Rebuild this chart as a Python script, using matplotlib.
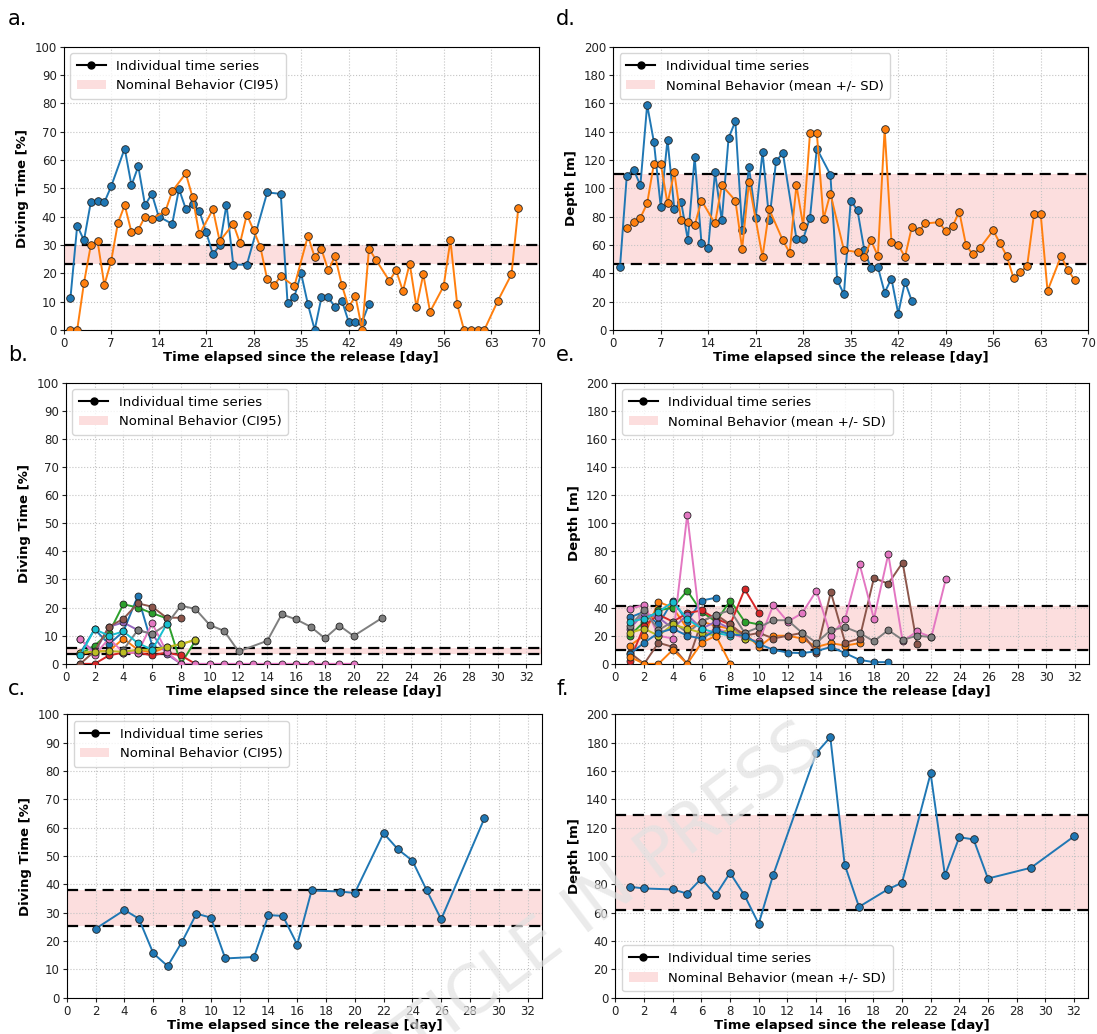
import numpy as np
import matplotlib
matplotlib.use("Agg")
import matplotlib.pyplot as plt
from matplotlib.lines import Line2D
from matplotlib.patches import Patch

# --- data: panel a (diving time, long tracks) ---
a_blue_day = [1, 2, 3, 4, 5, 6, 7, 9, 10, 11, 12, 13, 14, 16, 17, 18, 19, 20, 21, 22,
              23, 24, 25, 27, 30, 32, 33, 34, 35, 36, 37, 38, 39, 40, 41, 42, 43, 44, 45]
a_blue_val = [11.1, 36.8, 31.6, 45, 45.6, 45, 50.6, 64, 51, 57.7, 44, 48, 40, 37.4, 49.7,
              42.7, 44.4, 42, 34.5, 26.7, 29.8, 44.2, 23, 23, 48.5, 48, 9.4, 11.7, 19.9,
              9, 0, 11.5, 11.5, 8, 10.3, 2.9, 2.9, 2.9, 9.1]
a_orange_day = [1, 2, 3, 4, 5, 6, 7, 8, 9, 10, 11, 12, 13, 15, 16, 18, 19, 20, 22, 23,
                25, 26, 27, 28, 29, 30, 31, 32, 34, 36, 37, 38, 39, 40, 41, 42, 43, 44,
                45, 46, 48, 49, 50, 51, 52, 53, 54, 56, 57, 58, 59, 60, 61, 62, 64, 66, 67]
a_orange_val = [0, 0, 16.6, 29.8, 31.3, 15.8, 24.2, 37.7, 44, 34.5, 35.3, 40, 39.2, 41.9,
                48.9, 55.2, 46.8, 33.7, 42.5, 31.3, 37.4, 30.6, 40.7, 35.1, 29.2, 17.8,
                15.8, 18.9, 15.4, 33.1, 25.7, 28.4, 21, 26, 15.8, 8, 11.9, 0, 28.7, 24.8,
                17.3, 21, 13.7, 23.4, 8, 19.6, 6.4, 15.4, 31.6, 9, 0, 0, 0, 0, 10.3, 19.6, 42.9]
a_band = (23.2, 29.8)

# --- panel d (depth, long tracks) ---
d_blue_day = [1, 2, 3, 4, 5, 6, 7, 8, 9, 10, 11, 12, 13, 14, 15, 16, 17, 18, 19, 20, 21,
              22, 23, 24, 25, 27, 28, 29, 30, 32, 33, 34, 35, 36, 37, 38, 39, 40, 41, 42, 43, 44]
d_blue_val = [44.4, 108.9, 113.1, 102.1, 158.9, 132.4, 86.9, 134.3, 85.4, 90.4, 63.4, 122,
              61.5, 58, 111.3, 77.2, 135.4, 147.2, 70.4, 115, 79.1, 125.6, 77.5, 119, 124.9,
              64.3, 64.3, 79.1, 128, 109.6, 35.2, 25.1, 91.3, 84.3, 56.3, 43.4, 44.4, 26.3,
              36.2, 11.5, 34, 20.4]
d_orange_day = [2, 3, 4, 5, 6, 7, 8, 9, 10, 11, 12, 13, 15, 16, 18, 19, 20, 22, 23, 25, 26,
                27, 28, 29, 30, 31, 32, 34, 36, 37, 38, 39, 40, 41, 42, 43, 44, 45, 46, 48,
                49, 50, 51, 52, 53, 54, 56, 57, 58, 59, 60, 61, 62, 63, 64, 66, 67, 68]
d_orange_val = [71.6, 76, 79.1, 89.2, 117.4, 117.4, 89.2, 111.3, 77.5, 76.3, 73.7, 91.3,
                75.1, 102.1, 91.3, 57.3, 104.2, 51.4, 85, 63.1, 54.5, 102.1, 73.2, 139, 139,
                78.4, 96.2, 56.3, 54.9, 51.4, 63.1, 52.1, 141.8, 62.2, 59.9, 51.4, 72.5,
                69.7, 75.1, 76, 69.7, 73.2, 83.3, 59.6, 53.3, 57.5, 70.2, 61, 52.1, 36.4,
                40.8, 45.1, 81.5, 81.5, 27.5, 52.1, 42.3, 35.2]
d_band = (46.5, 109.8)

# --- panel b (diving time, short tracks) ---
b_s1_day = [1, 2, 3, 4, 5, 6]
b_s1_val = [3.8, 12.3, 7, 11.5, 24.1, 6.5]
b_s2_day = [1, 2, 3, 4, 5, 6, 7, 8, 9]
b_s2_val = [3.5, 4.5, 4.5, 9, 5, 4, 5.9, 7, 8.5]
b_s3_day = [1, 2, 3, 4, 5, 6, 7, 8, 9]
b_s3_val = [3.5, 6.5, 11, 21.2, 20, 18, 16.2, 0, 8.2]
b_s4_day = [1, 2, 3, 4, 5, 6, 7, 8, 9]
b_s4_val = [0, 0, 3, 4, 4, 3, 4, 3, 0]
b_s5_day = [1, 2, 3, 4, 5, 6, 7, 8]
b_s5_val = [8.8, 4, 13.2, 14.7, 12, 10.6, 3.5, 0]
b_s6_day = [1, 2, 3, 4, 5, 6, 7, 8]
b_s6_val = [0, 4.5, 13.2, 16, 21.5, 20.3, 16.4, 16.4]
b_s7_day = list(range(1, 21))
b_s7_val = [9, 3.1, 9, 4, 4, 14.4, 4.3, 0, 0, 0, 0, 0, 0, 0, 0, 0, 0, 0, 0, 0]
b_s8_day = [4, 5, 6, 7, 8, 9, 10, 11, 12, 14, 15, 16, 17, 18, 19, 20, 22]
b_s8_val = [5, 12, 10.6, 14, 20.7, 19.5, 13.8, 11.7, 4.4, 8.2, 17.6, 15.8, 13.2, 9.1,
            13.6, 9.9, 16.4]
b_s9_day = [1, 2, 3, 4, 5, 6, 7, 8, 9]
b_s9_val = [4, 4.3, 4.5, 4.3, 5, 5, 6, 7, 8.6]
b_s10_day = [1, 2, 3, 4, 5, 6, 7]
b_s10_val = [3, 12.3, 10, 11.5, 7.4, 5, 14]
b_band = (3.5, 5.5)

# --- panel e (depth, short tracks) ---
e_s1_day = [1, 2, 3, 4, 5, 6, 7]
e_s1_val = [33, 37, 28, 45, 30, 45, 47]
e_s2_day = list(range(1, 18))
e_s2_val = [13, 20, 44, 40, 25, 30, 27, 25, 22, 12, 20, 20, 18, 12, 14.7, 13, 14.7]
e_s3_day = list(range(1, 11))
e_s3_val = [20, 30, 38, 40, 52, 37, 30, 45, 30, 28]
e_s4_day = list(range(1, 11))
e_s4_val = [2, 27, 35, 30, 36, 38, 32, 28, 53, 36]
e_s5_day = list(range(1, 10))
e_s5_val = [25, 36, 33, 25, 35, 25, 30, 25, 20]
e_s6_day = list(range(1, 22))
e_s6_val = [8, 0, 15, 12, 0, 30, 35, 28, 20, 22, 18, 20, 22, 8, 51, 15, 18, 61, 57, 72, 14]
e_s7_day = list(range(1, 24))
e_s7_val = [39, 42, 20, 18, 106, 20, 25, 22, 18, 16, 42, 30, 36, 52, 20, 32, 71, 32, 78,
            16, 23, 19, 60]
e_s8_day = list(range(1, 23))
e_s8_val = [27, 38, 24, 30, 22, 30, 35, 38, 22, 26, 31, 31, 22, 15, 24, 26, 22, 16, 24,
            17, 20, 19]
e_s9_day = list(range(1, 11))
e_s9_val = [22, 25, 20, 28, 25, 22, 20, 25, 18, 15]
e_s10_day = list(range(1, 9))
e_s10_val = [30, 32, 37, 44, 32, 25, 22, 20]
e_s11_day = list(range(1, 20))
e_s11_val = [7, 15, 22, 25, 20, 18, 24, 21, 20, 14, 10, 8, 7.6, 9, 12, 7.6, 2.8, 1.2, 1.2]
e_s12_day = list(range(1, 9))
e_s12_val = [5, 0, 0, 10, 0, 15, 20, 0]
e_band = (9.9, 41.1)

# --- panel c / f (single track) ---
c_day = [2, 4, 5, 6, 7, 8, 9, 10, 11, 13, 14, 15, 16, 17, 19, 20, 22, 23, 24, 25, 26, 29]
c_val = [24.4, 31, 27.9, 15.7, 11.2, 19.8, 29.7, 28.3, 13.9, 14.4, 29.2, 28.9, 18.8,
         37.9, 37.5, 37, 58.1, 52.4, 48.4, 37.9, 27.7, 63.3]
c_band = (25.2, 37.9)
f_day = [1, 2, 4, 5, 6, 7, 8, 9, 10, 11, 14, 15, 16, 17, 19, 20, 22, 23, 24, 25, 26, 29, 32]
f_val = [78.4, 77.2, 76.5, 73.6, 84.2, 72.5, 88.2, 72.5, 52.2, 86.4, 172.5, 184, 94.1,
         64.2, 76.5, 81.2, 158.4, 86.4, 113.4, 111.8, 84.2, 91.8, 113.9]
f_band = (61.9, 128.9)

XLABEL = 'Time elapsed since the release [day]'
BAND = '#fcdede'
TAB = plt.rcParams['axes.prop_cycle'].by_key()['color']

fig = plt.figure(figsize=(10.97, 10.34), dpi=100)

def setup(ax, band, ylab, ymax, ystep, xmax, xstep, xlim, legend_label, loc='upper left'):
    ax.axhspan(band[0], band[1], color=BAND, zorder=0, lw=0)
    for yb in band:
        ax.axhline(yb, color='black', ls=(0, (5, 3)), lw=1.6, zorder=1)
    ax.set_ylim(0, ymax)
    ax.set_yticks(np.arange(0, ymax + 1, ystep))
    ax.set_xlim(0, xlim)
    ax.set_xticks(np.arange(0, xmax + 1, xstep))
    ax.grid(True, color='#c4c4c4', ls=':', lw=0.8)
    ax.set_axisbelow(True)
    ax.tick_params(labelsize=8.5, length=3, pad=2, colors='#222222')
    ax.set_ylabel(ylab, fontsize=9.5, fontweight='bold', labelpad=4)
    ax.set_xlabel(XLABEL, fontsize=9.5, fontweight='bold', labelpad=1)
    handles = [Line2D([0], [0], color='black', marker='o', ms=5, lw=1.5),
               Patch(facecolor=BAND, edgecolor='none')]
    ax.legend(handles, ['Individual time series', legend_label], loc=loc,
              fontsize=9.5, framealpha=0.8, handlelength=2.2, borderpad=0.5)

def series(ax, x, y, color, ms=5.5):
    ax.plot(x, y, '-o', color=color, lw=1.4, ms=ms, mec='#222222', mew=0.6,
            mfc=color, zorder=3)

W = 0.433
H = 0.274
ax_a = fig.add_axes([0.058, 0.681, W, H])
ax_d = fig.add_axes([0.559, 0.681, W, H])
ax_b = fig.add_axes([0.060, 0.358, W, H - 0.002])
ax_e = fig.add_axes([0.561, 0.358, W - 0.001, H - 0.002])
ax_c = fig.add_axes([0.061, 0.035, W, H])
ax_f = fig.add_axes([0.561, 0.035, W - 0.002, H])

# a
series(ax_a, a_blue_day, a_blue_val, TAB[0])
series(ax_a, a_orange_day, a_orange_val, TAB[1])
setup(ax_a, a_band, 'Diving Time [%]', 100, 10, 70, 7, 70, 'Nominal Behavior (CI95)')

# d
series(ax_d, d_blue_day, d_blue_val, TAB[0])
series(ax_d, d_orange_day, d_orange_val, TAB[1])
setup(ax_d, d_band, 'Depth [m]', 200, 20, 70, 7, 70, 'Nominal Behavior (mean +/- SD)')

# b
b_list = [(b_s1_day, b_s1_val), (b_s2_day, b_s2_val), (b_s3_day, b_s3_val),
          (b_s4_day, b_s4_val), (b_s5_day, b_s5_val), (b_s6_day, b_s6_val),
          (b_s7_day, b_s7_val), (b_s8_day, b_s8_val), (b_s9_day, b_s9_val),
          (b_s10_day, b_s10_val)]
for i, (x, y) in enumerate(b_list):
    series(ax_b, x, y, TAB[i % 10], ms=5)
setup(ax_b, b_band, 'Diving Time [%]', 100, 10, 32, 2, 33, 'Nominal Behavior (CI95)')

# e
e_list = [(e_s1_day, e_s1_val), (e_s2_day, e_s2_val), (e_s3_day, e_s3_val),
          (e_s4_day, e_s4_val), (e_s5_day, e_s5_val), (e_s6_day, e_s6_val),
          (e_s7_day, e_s7_val), (e_s8_day, e_s8_val), (e_s9_day, e_s9_val),
          (e_s10_day, e_s10_val), (e_s11_day, e_s11_val), (e_s12_day, e_s12_val)]
for i, (x, y) in enumerate(e_list):
    series(ax_e, x, y, TAB[i % 10], ms=5)
setup(ax_e, e_band, 'Depth [m]', 200, 20, 32, 2, 33, 'Nominal Behavior (mean +/- SD)')

# c
series(ax_c, c_day, c_val, TAB[0])
setup(ax_c, c_band, 'Diving Time [%]', 100, 10, 32, 2, 33, 'Nominal Behavior (CI95)')

# f
series(ax_f, f_day, f_val, TAB[0])
setup(ax_f, f_band, 'Depth [m]', 200, 20, 32, 2, 33, 'Nominal Behavior (mean +/- SD)',
      loc='lower left')

# panel letters
for lab, (x, y) in zip(['a.', 'd.', 'b.', 'e.', 'c.', 'f.'],
                       [(0.007, 0.972), (0.507, 0.972), (0.007, 0.647),
                        (0.507, 0.647), (0.007, 0.324), (0.507, 0.324)]):
    fig.text(x, y, lab, fontsize=15, va='bottom', ha='left')

# watermark (partly off the page, as in the source)
fig.text(0.525, 0.112, 'ARTICLE IN PRESS', fontsize=48, color='#e2e2e2', alpha=0.7,
         rotation=37, ha='center', va='center', zorder=10)

fig.savefig('out.png', dpi=100)
